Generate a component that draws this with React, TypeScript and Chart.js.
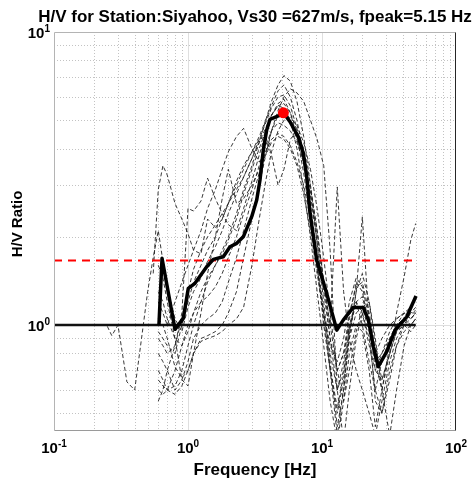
import React, { useEffect, useRef } from "react";
import { Chart, registerables } from "chart.js";

Chart.register(...registerables);

// ---------- text ----------
const TITLE = "H/V for Station:Siyahoo, Vs30 =627m/s, fpeak=5.15 Hz";
const X_LABEL = "Frequency [Hz]";
const Y_LABEL = "H/V Ratio";
const X_TICK_VALUES = [0.1, 1, 10, 100];
const X_TICK_EXPONENTS = ["-1", "0", "1", "2"];
const Y_TICK_VALUES = [1, 10];
const Y_TICK_EXPONENTS = ["0", "1"];

// ---------- axis ranges ----------
const X_MIN = 0.1;
const X_MAX = 100;
const Y_MIN = 0.435;
const Y_MAX = 10;

// ---------- individual window H/V curves (shared frequency grid) ----------
const windowFreqs = [0.25, 0.27, 0.3, 0.35, 0.4, 0.45, 0.5, 0.55, 0.6, 0.65, 0.7, 0.8, 0.9, 1.0, 1.1, 1.25, 1.4, 1.6, 1.8, 2.0, 2.3, 2.6, 3.0, 3.4, 3.8, 4.2, 4.7, 5.2, 5.8, 6.5, 7.3, 8.2, 9.2, 10.3, 11.5, 13, 14.5, 16, 18, 20, 22.5, 25, 28, 32, 36, 41, 46, 50];
const N = null;
const win01 = [0.99, 0.92, 1.0, 0.64, 0.6, 0.9, 1.3, 1.7, 2.1, 1.65, 1.35, 1.05, 0.95, 1.15, 1.3, 1.45, 1.65, 1.85, 2.1, 2.4, 2.8, 3.2, 3.7, 4.2, 4.7, 5.2, 5.7, 5.9, 5.3, 4.4, 3.3, 2.3, 1.55, 1.05, 0.72, 0.52, 0.68, 0.98, 1.2, 1.1, 0.85, 0.7, 0.8, 0.95, 1.05, 1.1, 1.05, 1.1];
const win02 = [N, N, N, N, N, N, N, 1.5, 2.9, 3.5, 3.25, 2.6, 2.3, 2.05, 1.8, 1.75, 2.3, 2.15, 2.3, 2.6, 3.1, 3.5, 3.9, 4.4, 5.0, 5.6, 6.3, 6.6, 6.0, 5.0, 3.8, 2.6, 1.7, 1.1, 0.7, 0.42, 0.6, 0.95, 1.2, 1.0, 0.75, 0.6, 0.75, 0.9, 1.0, 1.05, 1.0, 1.05];
const win03 = [N, N, N, N, N, N, N, N, 0.9, 0.85, 0.8, 0.85, 1.1, 2.5, 2.45, 2.65, 3.17, 2.7, 2.4, 2.2, 2.1, 2.5, 3.1, 3.8, 4.5, 5.2, 5.6, 5.5, 5.0, 4.3, 3.6, 2.8, 2.0, 1.4, 1.0, 0.7, 0.8, 1.1, 1.35, 1.4, 1.1, 0.8, 0.75, 0.85, 0.95, 1.0, 0.95, 1.0];
const win04 = [N, N, N, N, N, N, N, N, 1.2, 1.1, 1.0, 1.2, 1.4, 1.6, 1.8, 2.1, 2.5, 2.9, 3.4, 3.9, 4.4, 4.69, 4.0, 3.6, 3.9, 4.6, 5.2, 5.4, 5.0, 4.0, 2.9, 2.0, 1.3, 0.85, 0.55, 0.4, 0.55, 0.8, 1.0, 0.95, 0.7, 0.45, 0.6, 0.85, 1.0, 1.1, 1.05, 1.1];
const win05 = [N, N, N, N, N, N, N, N, 0.7, 0.65, 0.6, 0.62, 0.7, 0.85, 1.0, 1.2, 1.4, 1.6, 1.8, 2.0, 2.4, 2.9, 3.5, 4.2, 5.0, 5.8, 6.6, 7.1, 6.8, 5.8, 4.4, 3.0, 1.9, 1.2, 0.75, 0.45, 0.6, 0.9, 1.3, 1.5, 1.2, 0.85, 0.65, 0.8, 0.95, 1.05, 1.1, 1.15];
const win06 = [N, N, N, N, N, N, N, N, 0.6, 0.58, 0.6, 0.7, 0.85, 1.0, 1.1, 1.2, 1.25, 1.35, 1.5, 1.7, 2.0, 2.4, 2.9, 3.5, 4.1, 4.6, 4.9, 4.8, 4.6, 4.2, 3.6, 2.9, 2.1, 1.4, 1.0, 2.96, 1.3, 0.9, 0.7, 0.6, 0.5, 0.42, 0.55, 0.75, 0.9, 1.0, 1.05, 1.1];
const win07 = [N, N, N, N, N, N, N, N, 0.8, 0.75, 0.7, 0.6, 0.65, 0.75, 0.9, 1.0, 1.05, 1.1, 1.2, 1.4, 1.7, 2.1, 2.7, 3.3, 3.9, 4.3, 4.5, 4.4, 4.1, 3.6, 3.0, 2.3, 1.6, 1.1, 0.8, 0.6, 0.7, 0.95, 1.3, 2.34, 1.0, 0.55, 0.5, 0.7, 0.85, 0.95, 1.0, 1.05];
const win08 = [N, N, N, N, N, N, N, N, 1.3, 1.2, 1.05, 0.9, 0.85, 0.95, 1.1, 1.3, 1.45, 1.6, 1.75, 1.95, 2.3, 2.8, 3.4, 4.0, 4.6, 5.2, 5.6, 5.7, 5.3, 4.6, 3.7, 2.8, 1.9, 1.3, 0.9, 0.7, 0.8, 1.0, 1.2, 1.25, 1.0, 0.75, 0.6, 0.8, 1.1, 1.46, 1.95, 2.22];
const win09 = [N, N, N, N, N, N, N, N, 0.95, 0.9, 0.85, 0.8, 1.0, 1.2, 1.4, 1.6, 1.8, 2.0, 2.3, 2.6, 3.0, 3.4, 3.9, 4.3, 4.4, 3.8, 3.0, 3.4, 4.3, 4.6, 4.0, 3.0, 2.1, 1.4, 0.9, 0.6, 0.75, 1.05, 1.4, 1.3, 1.0, 0.7, 0.65, 0.8, 0.95, 1.0, 1.0, 1.05];
const win10 = [N, N, N, N, N, N, N, N, 0.65, 0.62, 0.6, 0.58, 0.62, 0.7, 0.8, 0.9, 0.92, 0.95, 1.0, 1.1, 1.3, 1.7, 2.3, 3.0, 3.8, 4.6, 5.4, 6.0, 6.4, 6.2, 5.8, 5.0, 4.3, 3.5, 1.8, 0.6, 0.4, 0.6, 0.9, 1.1, 0.9, 0.6, 0.5, 0.65, 0.85, 1.0, 1.1, 1.1];
const win11 = [N, N, N, N, N, N, N, N, 1.05, 1.0, 0.9, 0.72, 0.66, 0.7, 0.8, 0.88, 0.9, 0.92, 0.95, 1.0, 1.05, 1.15, 1.6, 2.3, 3.1, 3.9, 4.6, 5.0, 5.1, 4.8, 4.2, 3.4, 2.5, 1.7, 1.1, 0.7, 0.55, 0.7, 0.95, 1.15, 1.2, 0.9, 0.6, 0.42, 0.6, 0.85, 1.0, 1.0];
const win12 = [N, N, N, N, N, N, N, N, 0.55, 0.6, 0.7, 0.85, 1.05, 1.3, 1.55, 1.8, 2.0, 2.2, 2.4, 2.6, 2.9, 3.2, 3.7, 4.3, 4.9, 5.5, 6.0, 6.1, 5.6, 4.7, 3.6, 2.5, 1.6, 1.0, 0.7, 0.5, 0.65, 0.9, 1.1, 1.15, 0.95, 0.75, 0.8, 0.9, 1.0, 1.05, 1.1, 1.12];
const win13 = [N, N, N, N, N, N, N, N, 1.6, 1.45, 1.2, 0.9, 0.65, 0.62, 0.8, 1.1, 1.5, 2.0, 2.7, 3.4, 2.6, 2.7, 3.0, 3.4, 3.8, 4.2, 4.4, 4.3, 4.0, 3.5, 2.8, 2.1, 1.5, 1.1, 0.85, 0.75, 0.9, 1.2, 1.45, 1.35, 1.05, 0.8, 0.9, 1.0, 1.05, 1.1, 1.15, 1.2];
const windowCurves = [win01, win02, win03, win04, win05, win06, win07, win08, win09, win10, win11, win12, win13];

// ---------- mean H/V curve ----------
const meanFreqs = [0.607, 0.64, 0.8, 0.922, 1.005, 1.127, 1.379, 1.545, 1.834, 2.058, 2.309, 2.586, 2.988, 3.256, 3.445, 3.648, 3.867, 4.093, 4.72, 5.15, 5.77, 6.65, 7.25, 7.69, 8.14, 9.13, 10.84, 12.9, 14.4, 17.1, 20.3, 22.2, 24.2, 26.3, 30.4, 35.1, 42.9, 50.3];
const meanHV = [1.0, 1.69, 0.967, 1.054, 1.334, 1.388, 1.581, 1.675, 1.71, 1.85, 1.9, 2.0, 2.343, 2.671, 3.125, 3.956, 4.63, 5.036, 5.17, 5.3, 4.94, 4.39, 3.855, 3.21, 2.405, 1.667, 1.283, 0.961, 1.04, 1.149, 1.149, 1.04, 0.843, 0.721, 0.811, 0.961, 1.067, 1.256];

// ---------- peak & reference lines ----------
const peakFreq = [5.15];
const peakHV = [5.3];
const refLineFreqs = [0.1, 50];
const unityLevel = [1, 1];
const thresholdLevel = [1.66, 1.66];

const toPoints = (xs: number[], ys: (number | null)[]) =>
  xs.map((x, i) => ({ x, y: ys[i] })).filter((p) => p.y !== null);

const FONT = "'Liberation Sans', Arial, Helvetica, sans-serif";

function drawPow(ctx: CanvasRenderingContext2D, exp: string, x: number, baseline: number, mode: "center" | "right") {
  ctx.font = `bold 15px ${FONT}`;
  const wBase = ctx.measureText("10").width;
  ctx.font = `bold 10px ${FONT}`;
  const wExp = ctx.measureText(exp).width;
  const total = wBase + wExp;
  const left = mode === "center" ? x - total / 2 : x - total;
  ctx.textAlign = "left";
  ctx.textBaseline = "alphabetic";
  ctx.font = `bold 15px ${FONT}`;
  ctx.fillText("10", left, baseline);
  ctx.font = `bold 10px ${FONT}`;
  ctx.fillText(exp, left + wBase, baseline - 6);
}

const matlabAxes = {
  id: "matlabAxes",
  beforeDatasetsDraw(chart: any) {
    const { ctx, chartArea: a, scales } = chart;
    const xs = scales.x;
    const ys = scales.y;
    ctx.save();
    ctx.lineWidth = 1;
    for (let e = -1; e <= 1; e++) {
      for (let k = 1; k <= 9; k++) {
        const v = k * Math.pow(10, e);
        if (v <= X_MIN * 1.0001 || v >= X_MAX * 0.9999) continue;
        const px = Math.round(xs.getPixelForValue(v)) + 0.5;
        ctx.beginPath();
        if (k === 1) {
          ctx.strokeStyle = "rgba(38,38,38,0.15)";
          ctx.setLineDash([]);
        } else {
          ctx.strokeStyle = "rgba(38,38,38,0.28)";
          ctx.setLineDash([1, 2]);
        }
        ctx.moveTo(px, a.top);
        ctx.lineTo(px, a.bottom);
        ctx.stroke();
      }
    }
    for (let e = -1; e <= 0; e++) {
      for (let k = 1; k <= 9; k++) {
        const v = k * Math.pow(10, e);
        if (v <= Y_MIN || v >= Y_MAX * 0.9999) continue;
        const py = Math.round(ys.getPixelForValue(v)) + 0.5;
        ctx.beginPath();
        if (k === 1) {
          ctx.strokeStyle = "rgba(38,38,38,0.15)";
          ctx.setLineDash([]);
        } else {
          ctx.strokeStyle = "rgba(38,38,38,0.28)";
          ctx.setLineDash([1, 2]);
        }
        ctx.moveTo(a.left, py);
        ctx.lineTo(a.right, py);
        ctx.stroke();
      }
    }
    ctx.restore();
  },
  afterDatasetsDraw(chart: any) {
    const { ctx, chartArea: a } = chart;
    ctx.save();
    ctx.setLineDash([]);
    ctx.lineWidth = 1;
    const L = Math.round(a.left) + 0.5;
    const R = Math.round(a.right) - 0.5;
    const T = Math.round(a.top) + 0.5;
    const B = Math.round(a.bottom) - 0.5;
    ctx.strokeStyle = "#b4b4b4";
    ctx.beginPath();
    ctx.moveTo(L, B);
    ctx.lineTo(L, T);
    ctx.lineTo(R, T);
    ctx.stroke();
    ctx.strokeStyle = "#9a9a9a";
    ctx.beginPath();
    ctx.moveTo(L, B);
    ctx.lineTo(R, B);
    ctx.stroke();
    ctx.strokeStyle = "#262626";
    ctx.beginPath();
    ctx.moveTo(R, T);
    ctx.lineTo(R, B);
    ctx.stroke();
    ctx.restore();
  },
  afterDraw(chart: any) {
    const { ctx, chartArea: a, scales } = chart;
    const xs = scales.x;
    const ys = scales.y;
    ctx.save();
    ctx.fillStyle = "#000";
    const cx = (a.left + a.right) / 2;
    ctx.font = `bold 17px ${FONT}`;
    ctx.textAlign = "center";
    ctx.textBaseline = "alphabetic";
    ctx.fillText(TITLE, cx, 22);
    ctx.fillText(X_LABEL, cx, 475);
    ctx.save();
    ctx.translate(18, 224);
    ctx.rotate(-Math.PI / 2);
    ctx.font = `bold 15px ${FONT}`;
    ctx.textAlign = "center";
    ctx.textBaseline = "middle";
    ctx.fillText(Y_LABEL, 0, 0);
    ctx.restore();
    X_TICK_VALUES.forEach((v, i) => {
      drawPow(ctx, X_TICK_EXPONENTS[i], xs.getPixelForValue(v), 453, "center");
    });
    Y_TICK_VALUES.forEach((v, i) => {
      drawPow(ctx, Y_TICK_EXPONENTS[i], a.left - 4, ys.getPixelForValue(v) + 5.5, "right");
    });
    ctx.restore();
  },
};

export default function App() {
  const canvasRef = useRef<HTMLCanvasElement | null>(null);

  useEffect(() => {
    if (!canvasRef.current) return;
    const dashed = windowCurves.map((c) => ({
      data: toPoints(windowFreqs, c),
      borderColor: "rgba(30,30,30,0.88)",
      borderWidth: 1,
      borderDash: [4, 2.5],
      pointRadius: 0,
      fill: false,
      order: 4,
    }));
    const chart = new Chart(canvasRef.current, {
      type: "line",
      data: {
        datasets: [
          {
            data: toPoints(peakFreq, peakHV),
            showLine: false,
            pointRadius: 5.5,
            pointBackgroundColor: "#ff0000",
            pointBorderWidth: 0,
            borderColor: "#ff0000",
            order: 0,
          },
          {
            data: toPoints(meanFreqs, meanHV),
            borderColor: "#000",
            borderWidth: 3.5,
            pointRadius: 0,
            borderJoinStyle: "round",
            order: 1,
          },
          {
            data: toPoints(refLineFreqs, thresholdLevel),
            borderColor: "#ff0000",
            borderWidth: 2,
            borderDash: [8, 6],
            pointRadius: 0,
            order: 2,
          },
          {
            data: toPoints(refLineFreqs, unityLevel),
            borderColor: "#111",
            borderWidth: 2.5,
            pointRadius: 0,
            order: 3,
          },
          ...dashed,
        ] as any,
      },
      options: {
        responsive: false,
        animation: false,
        devicePixelRatio: 1,
        events: [],
        layout: { padding: { left: 54, top: 32, right: 20, bottom: 50 } },
        plugins: { legend: { display: false }, title: { display: false }, tooltip: { enabled: false } },
        scales: {
          x: { type: "logarithmic", min: X_MIN, max: X_MAX, display: false },
          y: { type: "logarithmic", min: Y_MIN, max: Y_MAX, display: false },
        },
      },
      plugins: [matlabAxes],
    });
    return () => chart.destroy();
  }, []);

  return (
    <div style={{ position: "absolute", left: 0, top: 0, width: 476, height: 481, background: "#fff" }}>
      <canvas ref={canvasRef} width={476} height={481} />
    </div>
  );
}
